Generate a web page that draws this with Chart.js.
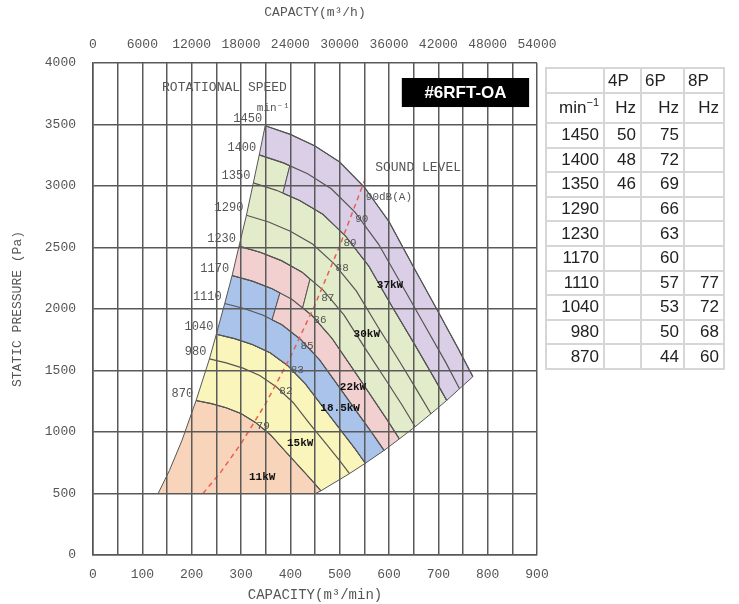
<!DOCTYPE html>
<html>
<head>
<meta charset="utf-8">
<script src="https://cdn.jsdelivr.net/npm/chart.js@4.4.0/dist/chart.umd.min.js"></script>
<style>
  html, body { margin: 0; padding: 0; background: #fff; }
  #wrap { position: relative; width: 739px; height: 604px; overflow: hidden; }
  #c { position: absolute; left: 0; top: 0; }
  #tbl { position: absolute; left: 545px; top: 67px; width: 178px; border-collapse: collapse; table-layout: fixed;
         font-family: "Liberation Sans", Arial, sans-serif; font-size: 17px; color: #222; }
  #tbl td { border: 2px solid #d6d6d6; padding: 0 4px 0 3px; height: 22.6px; text-align: right; line-height: 20px; }
  #tbl tr.h1 td { text-align: left; height: 23px; }
  #tbl tr.h2 td { height: 28px; }
  sup { font-size: 11px; vertical-align: 7px; line-height: 0; }
</style>
</head>
<body>
<div id="wrap">
  <canvas id="c" width="739" height="604"></canvas>
  <table id="tbl">
    <colgroup><col style="width:58px"><col style="width:37px"><col style="width:43px"><col style="width:40px"></colgroup>
    <tbody id="tbody"></tbody>
  </table>
</div>
<script>
// speed curves (Q m3/min, P Pa)
var q1450 = [349, 400, 450, 500, 550, 600, 650, 700, 740, 770];
var p1450 = [3490, 3420, 3325, 3195, 2990, 2710, 2340, 1975, 1680, 1450];
var q1400 = [337, 386, 435, 483, 531, 579, 628, 676, 715, 743];
var p1400 = [3253, 3188, 3100, 2978, 2787, 2526, 2181, 1841, 1566, 1352];
var q1350 = [325, 372, 419, 466, 512, 559, 605, 652, 689, 717];
var p1350 = [3025, 2965, 2882, 2770, 2592, 2349, 2028, 1712, 1456, 1257];
var q1290 = [311, 356, 400, 445, 489, 534, 578, 623, 658, 685];
var p1290 = [2762, 2707, 2632, 2529, 2367, 2145, 1852, 1563, 1330, 1148];
var q1230 = [296, 339, 382, 424, 467, 509, 551, 594, 628, 653];
var p1230 = [2511, 2461, 2393, 2299, 2152, 1950, 1684, 1421, 1209, 1043];
var q1170 = [282, 323, 363, 403, 444, 484, 525, 565, 597, 621];
var p1170 = [2272, 2227, 2165, 2080, 1947, 1764, 1524, 1286, 1094, 944];
var q1110 = [267, 306, 345, 383, 421, 459, 498, 536, 567, 590];
var p1110 = [2045, 2004, 1949, 1872, 1752, 1588, 1371, 1157, 985, 850];
var q1040 = [250, 287, 323, 359, 395, 430, 466, 502, 531, 552];
var p1040 = [1795, 1759, 1711, 1644, 1538, 1394, 1204, 1016, 864, 746];
var q980 = [236, 270, 304, 338, 372, 406, 439, 473, 500, 520];
var p980 = [1594, 1562, 1519, 1459, 1366, 1238, 1069, 902, 767, 662];
var q870 = [209, 240, 270, 300, 330, 360, 390, 420, 444, 462];
var p870 = [1256, 1231, 1197, 1150, 1076, 976, 842, 711, 605, 522];

// lower part of the surge line and foot of the right limit (500 Pa)
var surgeQ = [132, 155, 180];
var surgeP = [500, 688, 928];
var rightFoot = [451, 500];

// steps between motor zones [Q, P]
var s1Top = [399, 3165], s1Bot = [385, 2942];
var s2Top = [440, 2244], s2Bot = [425, 2009];
var s3Top = [379, 2131], s3Bot = [363, 1912];

// sound level line
var soundQ = [223, 260, 300, 350, 400, 450, 500, 551];
var soundP = [500, 680, 905, 1231, 1608, 2035, 2513, 3050];
var dbText = ['90dB(A)', '90', '89', '88', '87', '86', '85', '83', '82', '79'];
var dbQ = [553, 545, 521, 505, 476, 460, 434, 414, 391, 345];
var dbP = [2911, 2732, 2537, 2333, 2089, 1911, 1699, 1504, 1333, 1049];

var kwText = ['37kW', '30kW', '22kW', '18.5kW', '15kW', '11kW'];
var kwQ = [602, 555, 527, 501, 420, 343];
var kwP = [2195, 1797, 1366, 1195, 911, 634];

// table
var tRpm = [1450, 1400, 1350, 1290, 1230, 1170, 1110, 1040, 980, 870];
var t4P = [50, 48, 46, '', '', '', '', '', '', ''];
var t6P = [75, 72, 69, 66, 63, 60, 57, 53, 50, 44];
var t8P = ['', '', '', '', '', '', 77, 72, 68, 60];

var curveList = [
  [1450, q1450, p1450], [1400, q1400, p1400], [1350, q1350, p1350], [1290, q1290, p1290],
  [1230, q1230, p1230], [1170, q1170, p1170], [1110, q1110, p1110], [1040, q1040, p1040],
  [980, q980, p980], [870, q870, p870]
];

var pt = (q, p) => q.map((v, i) => ({ x: v, y: p[i] }));
var P = a => ({ x: a[0], y: a[1] });
var seg = (q, p, test) => pt(q, p).filter(o => test(o.x));
var start = (q, p) => ({ x: q[0], y: p[0] });
var end = (q, p) => ({ x: q[q.length - 1], y: p[p.length - 1] });

var purple = [
  ...pt(q1450, p1450), end(q1400, p1400),
  ...seg(q1350, p1350, x => x > s1Bot[0]).reverse(), P(s1Bot), P(s1Top),
  ...seg(q1400, p1400, x => x < s1Top[0]).reverse(), start(q1450, p1450)
];
var green = [
  ...seg(q1400, p1400, x => x < s1Top[0]), P(s1Top), P(s1Bot),
  ...seg(q1350, p1350, x => x > s1Bot[0]), end(q1290, p1290), end(q1230, p1230),
  ...seg(q1170, p1170, x => x > s2Bot[0]).reverse(), P(s2Bot), P(s2Top),
  ...seg(q1230, p1230, x => x < s2Top[0]).reverse(),
  start(q1290, p1290), start(q1350, p1350), start(q1400, p1400)
];
var pink = [
  ...seg(q1230, p1230, x => x < s2Top[0]), P(s2Top), P(s2Bot),
  ...seg(q1170, p1170, x => x > s2Bot[0]),
  ...seg(q1110, p1110, x => x > s3Bot[0]).reverse(), P(s3Bot), P(s3Top),
  ...seg(q1170, p1170, x => x < s3Top[0]).reverse(), start(q1230, p1230)
];
var blue = [
  ...seg(q1170, p1170, x => x < s3Top[0]), P(s3Top), P(s3Bot),
  ...seg(q1110, p1110, x => x > s3Bot[0]),
  ...pt(q1040, p1040).reverse(), start(q1110, p1110), start(q1170, p1170)
];
var yellow = [
  ...pt(q1040, p1040), end(q980, p980),
  ...pt(q870, p870).reverse(), start(q980, p980), start(q1040, p1040)
];
var peach = [
  ...pt(q870, p870), P(rightFoot), ...pt(surgeQ, surgeP), start(q870, p870)
];

// higher order = drawn earlier (underneath)
var zone = (data, color) => ({
  data: data, showLine: true, fill: 'shape', backgroundColor: color, order: 3,
  borderColor: '#555', borderWidth: 1, pointRadius: 0, tension: 0
});

var datasets = [
  zone(purple, '#dacfe6'), zone(green, '#e3ecca'), zone(pink, '#f3d0d0'),
  zone(blue, '#a9c3ea'), zone(yellow, '#faf5ba'), zone(peach, '#f8d4bb')
];
curveList.forEach(c => datasets.push({
  data: pt(c[1], c[2]), showLine: true, fill: false, borderColor: '#555', order: 2,
  borderWidth: 1.2, pointRadius: 0, tension: 0
}));
datasets.push({
  data: pt(soundQ, soundP), showLine: true, fill: false, borderColor: '#e8604f', order: 1,
  borderWidth: 1.5, borderDash: [5, 4], pointRadius: 0, tension: 0
});

var MONO = '"Liberation Mono", "DejaVu Sans Mono", monospace';

var textPlugin = {
  id: 'texts',
  afterDraw(chart) {
    var ctx = chart.ctx, sx = chart.scales.x, sy = chart.scales.y;
    var X = v => sx.getPixelForValue(v), Y = v => sy.getPixelForValue(v);
    ctx.save();
    ctx.fillStyle = '#555';
    ctx.font = '12px ' + MONO;
    ctx.textAlign = 'right';
    ctx.textBaseline = 'middle';
    curveList.forEach(c => ctx.fillText(String(c[0]), X(c[1][0]) - 3, Y(c[2][0]) - 7));

    ctx.font = '13px ' + MONO;
    ctx.textAlign = 'left';
    ctx.fillText('ROTATIONAL SPEED', X(140), Y(3800));
    ctx.fillText('SOUND LEVEL', X(572), Y(3146));
    ctx.textAlign = 'right';
    ctx.font = '11px ' + MONO;
    ctx.fillText('min\u207B\u00B9', X(399), Y(3634));

    ctx.font = '11px ' + MONO;
    dbText.forEach((t, i) => {
      ctx.textAlign = i === 0 ? 'left' : 'center';
      ctx.fillText(t, X(dbQ[i]), Y(dbP[i]));
    });

    ctx.fillStyle = '#111';
    ctx.font = 'bold 11px ' + MONO;
    ctx.textAlign = 'center';
    kwText.forEach((t, i) => ctx.fillText(t, X(kwQ[i]), Y(kwP[i])));

    // model badge
    var bx = X(626), by = Y(3878), bw = X(884) - bx, bh = Y(3642) - by;
    ctx.fillStyle = '#000';
    ctx.fillRect(bx, by, bw, bh);
    ctx.fillStyle = '#fff';
    ctx.font = 'bold 17px "Liberation Sans", Arial, sans-serif';
    ctx.textAlign = 'center';
    ctx.fillText('#6RFT-OA', bx + bw / 2, by + bh / 2 + 1);
    ctx.restore();
  }
};

var gridOpts = { color: '#5a5a5a', lineWidth: 1.5, drawTicks: false, z: 1 };
var tickFont = { family: MONO, size: 13 };

new Chart(document.getElementById('c').getContext('2d'), {
  type: 'scatter',
  data: { datasets: datasets },
  options: {
    responsive: false,
    devicePixelRatio: 1,
    animation: false,
    layout: { padding: { left: 0, right: 202, top: 0, bottom: 0 } },
    plugins: { legend: { display: false }, tooltip: { enabled: false } },
    scales: {
      x: {
        type: 'linear', position: 'bottom', min: 0, max: 900, z: 1,
        grid: gridOpts, border: { color: '#555', width: 1.5, z: 1 },
        ticks: { stepSize: 50, autoSkip: false, maxRotation: 0, padding: 12, color: '#555', font: tickFont,
                 callback: v => (v % 100 === 0 ? String(v) : '') },
        title: { display: true, text: 'CAPACITY(m\u00B3/min)', color: '#555', font: { family: MONO, size: 14 }, padding: { top: 0, bottom: 0 } },
        afterFit: s => { s.height = 49; }
      },
      x2: {
        type: 'linear', position: 'top', min: 0, max: 54000,
        grid: { display: false }, border: { display: false },
        ticks: { stepSize: 6000, autoSkip: false, maxRotation: 0, padding: 3, color: '#555',
                 font: { family: MONO, size: 13 }, callback: v => String(v) },
        title: { display: true, text: 'CAPACTY(m\u00B3/h)', color: '#555', font: { family: MONO, size: 13 }, padding: { top: 5, bottom: 0 } },
        afterFit: s => { s.height = 63; }
      },
      y: {
        type: 'linear', position: 'left', min: 0, max: 4000, z: 1,
        grid: gridOpts, border: { color: '#555', width: 1.5, z: 1 },
        ticks: { stepSize: 500, padding: 17, color: '#555', font: tickFont, callback: v => String(v) },
        title: { display: true, text: 'STATIC PRESSURE (Pa)', color: '#555', font: { family: MONO, size: 13 }, padding: { top: 10, bottom: 0 } },
        afterFit: s => { s.width = 93; }
      }
    }
  },
  plugins: [textPlugin]
});

// table
var tb = document.getElementById('tbody');
var row = (cells, cls) => {
  var tr = document.createElement('tr');
  if (cls) tr.className = cls;
  cells.forEach(c => { var td = document.createElement('td'); td.innerHTML = c; tr.appendChild(td); });
  tb.appendChild(tr);
};
row(['', '4P', '6P', '8P'], 'h1');
row(['min<sup>\u22121</sup>', 'Hz', 'Hz', 'Hz'], 'h2');
tRpm.forEach((r, i) => row([r, t4P[i], t6P[i], t8P[i]]));
</script>
</body>
</html>
